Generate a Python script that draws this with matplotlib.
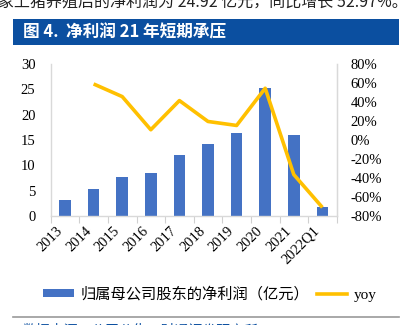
import numpy as np
import matplotlib.pyplot as plt
from matplotlib.patches import Rectangle, Patch
from matplotlib.lines import Line2D

years = ["2013", "2014", "2015", "2016", "2017", "2018", "2019", "2020", "2021", "2022Q1"]
profit = [3.2, 5.25, 7.7, 8.5, 11.95, 14.25, 16.4, 25.2, 15.9, 1.85]
yoy = [np.nan, 0.59, 0.457, 0.108, 0.415, 0.195, 0.153, 0.545, -0.364, -0.71]

W, H = 406, 325
BAR_C = "#4472C4"
LINE_C = "#FFC000"
SERIF = "Liberation Serif"
CJK = "Noto Sans CJK SC"

plt.rcParams["font.family"] = [SERIF, CJK, "DejaVu Sans"]

fig = plt.figure(figsize=(W / 100, H / 100), dpi=100)


def px(x0, y0, x1, y1):
    return [x0 / W, 1 - y1 / H, (x1 - x0) / W, (y1 - y0) / H]


# cut-off body text at top
fig.text(-2 / W, 1 - 2 / H, "象上猪养殖后的净利润为 24.92 亿元，同比增长 52.97%。",
         fontsize=11.5, family=[CJK, SERIF], va="center", ha="left", color="#222222")

# title bar
fig.patches.append(Rectangle((13 / W, 1 - 45 / H), (399 - 13) / W, 26 / H,
                             transform=fig.transFigure, facecolor="#0B4FA0",
                             edgecolor="none"))
fig.text(23 / W, 1 - 32 / H, "图 4.  净利润 21 年短期承压", color="white",
         fontsize=12, fontweight="bold", family=[CJK, SERIF], va="center", ha="left")

ax = fig.add_axes(px(50.7, 64, 336.7, 216))
x = np.arange(len(years))
ax.bar(x, profit, width=0.4, color=BAR_C, zorder=2)
ax.set_xlim(-0.5, len(years) - 0.5)
ax.set_ylim(0, 30)
ax.set_yticks(range(0, 31, 5))
ax.set_xticks(x)
ax.set_xticklabels(years, rotation=45, ha="right", va="top", fontsize=10.5)
ax.set_xticks(np.arange(-0.5, len(years), 1), minor=True)
ax.tick_params(axis="x", which="major", length=0, pad=6)
ax.tick_params(axis="x", which="minor", length=5, color="#D0D0D0", width=0.8)
ax.tick_params(axis="y", length=0, pad=11, labelsize=10.5)
ax.spines["top"].set_visible(False)
for s in ["left", "right", "bottom"]:
    ax.spines[s].set_color("#D9D9D9")
    ax.spines[s].set_linewidth(1.0)

ax2 = ax.twinx()
ax2.plot(x, yoy, color=LINE_C, lw=2.6, zorder=3, solid_capstyle="butt")
ax2.set_ylim(-0.8, 0.8)
ax2.set_yticks(np.arange(-0.8, 0.81, 0.2))
ax2.set_yticklabels([f"{int(round(v * 100))}%" for v in np.arange(-0.8, 0.81, 0.2)])
ax2.tick_params(axis="y", length=0, pad=10, labelsize=10.5)
for s in ["top", "left", "bottom"]:
    ax2.spines[s].set_visible(False)
ax2.spines["right"].set_color("#D9D9D9")

handles = [Patch(facecolor=BAR_C, edgecolor="none"),
           Line2D([], [], color=LINE_C, lw=2.6)]
leg = fig.legend(handles, ["归属母公司股东的净利润（亿元）", "yoy"], ncol=2,
                 loc="center left", bbox_to_anchor=(43 / W, 1 - 294 / H), frameon=False,
                 fontsize=11, handlelength=2.0, handleheight=0.45, columnspacing=0.5,
                 handletextpad=0.45, borderpad=0, borderaxespad=0)
leg.get_texts()[0].set_fontfamily([CJK, SERIF])
leg.get_texts()[1].set_fontfamily(SERIF)

# separator line and source
fig.add_artist(Line2D([13 / W, 399 / W], [1 - 317 / H, 1 - 317 / H],
                      color="#999999", lw=1.2, transform=fig.transFigure))
fig.text(22 / W, 1 - 330 / H, "数据来源：公司公告，财通证券研究所", color="#0B4FA0",
         fontsize=10, family=[CJK, SERIF], va="center", ha="left")

fig.savefig("out.png", dpi=100)
